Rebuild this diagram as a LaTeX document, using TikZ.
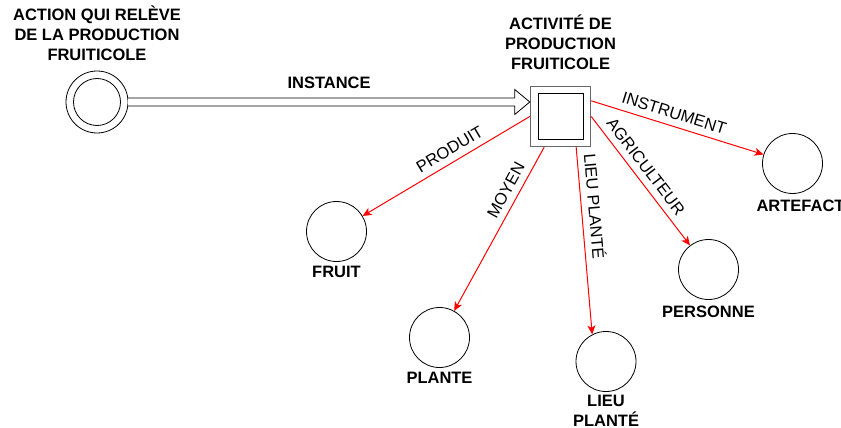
\documentclass[tikz,border=0pt]{standalone}
\usepackage{fontspec}
\setmainfont{Liberation Sans}
\usetikzlibrary{positioning,calc,arrows.meta}
\tikzset{
  concept/.style={circle, draw, line width=0.8pt, minimum size=60pt, inner sep=0pt},
  caption/.style={font=\bfseries\fontsize{16.5}{20}\selectfont, align=center, inner sep=0pt},
  rel/.style={draw=red, line width=1pt, -{Stealth[length=9pt,width=8pt,inset=2.5pt,fill=red]}},
  rellabel/.style={font=\fontsize{16.5}{20}\selectfont, sloped, above, inner sep=6.5pt}
}
\begin{document}
\begin{tikzpicture}[x=1pt,y=-1pt]
  \useasboundingbox (0,0) rectangle (841,428);
  % source and activity
  \node[concept, minimum size=62pt] (src) at (97,102) {};
  \node[concept, minimum size=47pt] (srcin) at (src) {};
  \node[draw=black!60, line width=1.5pt, minimum size=60pt, inner sep=0pt] (act) at (560.5,116.5) {};
  \node[draw, line width=1pt, minimum size=45pt, inner sep=0pt] (actin) at (act) {};
  \node[caption, above=10pt of src] (srccap) {ACTION QUI RELÈVE\\DE LA PRODUCTION\\FRUITICOLE};
  \node[caption, above=16pt of act] (actcap) {ACTIVITÉ DE\\PRODUCTION\\FRUITICOLE};
  % concepts
  \node[concept] (fruit) at (336.5,231.5) {};
  \node[concept] (plante) at (439.5,337.5) {};
  \node[concept] (lieu) at (606,361.5) {};
  \node[concept] (personne) at (708.5,269.5) {};
  \node[concept] (artefact) at (792.5,163.5) {};
  \node[caption, below=4pt of fruit] (fruitcap) {FRUIT};
  \node[caption, below=4.5pt of plante] (plantecap) {PLANTE};
  \node[caption, below=3.5pt of lieu] (lieucap) {LIEU\\PLANTÉ};
  \node[caption, below=5.5pt of personne] (personnecap) {PERSONNE};
  \node[caption, below=6pt of artefact, xshift=8pt] (artefactcap) {ARTEFACT};
  % instance arrow
  \coordinate (tip) at (act.west |- src.center);
  \draw[fill=white, line width=0.8pt] ($(src.east)+(-0.3,-4)$) -- ($(tip)+(-15,-4)$)
    -- ($(tip)+(-15,-12.5)$) -- (tip) -- ($(tip)+(-15,12.5)$) -- ($(tip)+(-15,4)$)
    -- ($(src.east)+(-0.3,4)$);
  \path (src.east) -- (tip) node[caption, midway, above=13pt] (instlab) {INSTANCE};
  % relations
  \draw[rel] (act.west) -- node[rellabel, pos=0.44] (produitlab) {PRODUIT} (fruit);
  \draw[rel] (act.-118) -- node[rellabel, pos=0.3] (moyenlab) {MOYEN} (plante);
  \draw[rel] (act.-63) -- node[rellabel, pos=0.32] (lieulab) {LIEU PLANTÉ} (lieu.117);
  \draw[rel] (act.east) -- node[rellabel, pos=0.45] (agrilab) {AGRICULTEUR} (personne);
  \draw[rel] (act.27) -- node[rellabel, pos=0.46] (instrlab) {INSTRUMENT} (artefact);
\end{tikzpicture}
\end{document}
